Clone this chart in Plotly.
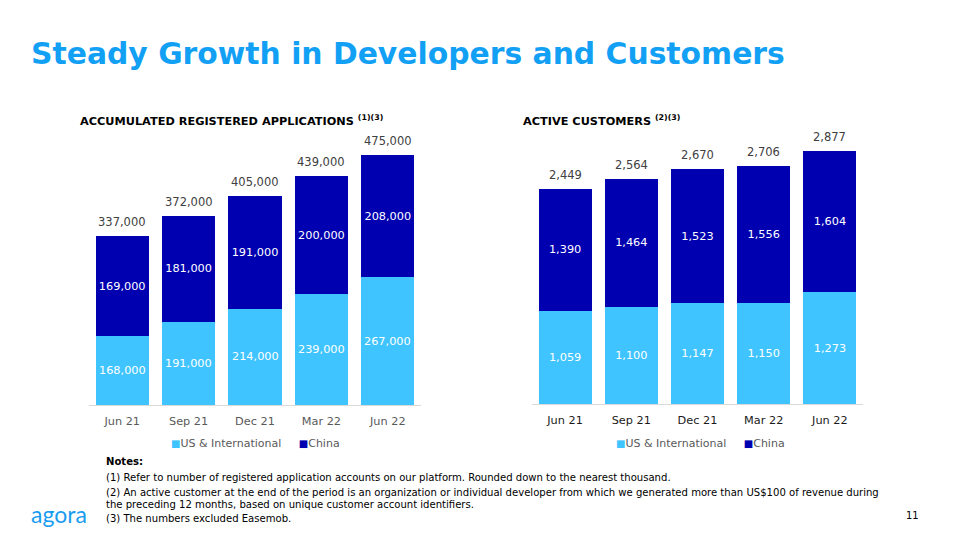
import plotly.graph_objects as go

categories = ["Jun 21", "Sep 21", "Dec 21", "Mar 22", "Jun 22"]
apps_us = [168000, 191000, 214000, 239000, 267000]
apps_china = [169000, 181000, 191000, 200000, 208000]
apps_total = [337000, 372000, 405000, 439000, 475000]
cust_us = [1059, 1100, 1147, 1150, 1273]
cust_china = [1390, 1464, 1523, 1556, 1604]
cust_total = [2449, 2564, 2670, 2706, 2877]
series_names = ["US & International", "China"]

LIGHT = "#40c4ff"
DARK = "#0000b0"
FONT = "DejaVu Sans, Verdana, sans-serif"
W, H = 960, 540
APPS_RANGE = [50000, 518000]
CUST_RANGE = [0, 3117]


def px(x):
    return x / W


def py(y):
    return 1 - y / H


fig = go.Figure()

common = dict(insidetextanchor="middle", constraintext="none", textangle=0,
              textfont=dict(color="white", size=11.3, family=FONT), marker_line_width=0,
              showlegend=False)

# left chart: light bars are cut by the axis start, so their labels sit at the visible middle
fig.add_trace(go.Bar(x=categories, y=apps_us, name=series_names[0], marker_color=LIGHT,
                     xaxis="x", yaxis="y", textposition="none", **common))
fig.add_trace(go.Bar(x=categories, y=apps_china, name=series_names[1], marker_color=DARK,
                     text=[f"{v:,}" for v in apps_china], xaxis="x", yaxis="y", textposition="inside", **common))
fig.add_trace(go.Bar(x=categories, y=cust_us, name=series_names[0], marker_color=LIGHT,
                     text=[f"{v:,}" for v in cust_us], xaxis="x2", yaxis="y2", textposition="inside", **common))
fig.add_trace(go.Bar(x=categories, y=cust_china, name=series_names[1], marker_color=DARK,
                     text=[f"{v:,}" for v in cust_china], xaxis="x2", yaxis="y2", textposition="inside", **common))

annotations = []
for c, v in zip(categories, apps_us):
    annotations.append(dict(x=c, y=(max(APPS_RANGE[0], 0) + v) / 2, xref="x", yref="y", text=f"{v:,}",
                            showarrow=False, yanchor="middle",
                            font=dict(size=11.3, color="white", family=FONT)))
for c, t in zip(categories, apps_total):
    annotations.append(dict(x=c, y=t, xref="x", yref="y", text=f"{t:,}", showarrow=False,
                            yanchor="bottom", yshift=5, font=dict(size=11.5, color="#404040", family=FONT)))
for c, t in zip(categories, cust_total):
    annotations.append(dict(x=c, y=t, xref="x2", yref="y2", text=f"{t:,}", showarrow=False,
                            yanchor="bottom", yshift=5, font=dict(size=11.5, color="#404040", family=FONT)))

annotations += [
    dict(x=px(29), y=py(54), xref="paper", yref="paper", xanchor="left", yanchor="middle",
         text="<b>Steady Growth in Developers and Customers</b>", showarrow=False,
         font=dict(size=29.8, color="#12a0f5", family=FONT)),
    dict(x=px(78), y=py(120), xref="paper", yref="paper", xanchor="left", yanchor="middle",
         text="<b>ACCUMULATED REGISTERED APPLICATIONS <sup>(1)(3)</sup></b>", showarrow=False,
         font=dict(size=11.3, color="#000000", family=FONT)),
    dict(x=px(521), y=py(120), xref="paper", yref="paper", xanchor="left", yanchor="middle",
         text="<b>ACTIVE CUSTOMERS <sup>(2)(3)</sup></b>", showarrow=False,
         font=dict(size=11.3, color="#000000", family=FONT)),
]

# legends (one per chart)
GAP = "\u00a0" * 5
legend_text = (f"<span style='color:{LIGHT};font-size:10px'>■</span>{series_names[0]}{GAP}"
               f"<span style='color:{DARK};font-size:10px'>■</span>{series_names[1]}")
for cx in (255, 700):
    annotations.append(dict(x=px(cx), y=py(443), xref="paper", yref="paper", xanchor="center",
                            yanchor="middle", text=legend_text, showarrow=False,
                            font=dict(size=11, color="#595959", family=FONT)))

NOTE_FONT = "Liberation Sans Narrow, DejaVu Sans Condensed, Arial Narrow, sans-serif"
notes = [
    (461, "<b>Notes:</b>"),
    (477, "(1) Refer to number of registered application accounts on our platform. Rounded down to the nearest thousand."),
    (492, "(2) An active customer at the end of the period is an organization or individual developer from which we generated more than US$100 of revenue during"),
    (504, "the preceding 12 months, based on unique customer account identifiers."),
    (518, "(3) The numbers excluded Easemob."),
]
for y, t in notes:
    annotations.append(dict(x=px(104), y=py(y), xref="paper", yref="paper", xanchor="left", yanchor="middle",
                            text=t, showarrow=False, font=dict(size=11.2, color="#000000", family=NOTE_FONT)))

annotations.append(dict(x=px(29), y=py(514), xref="paper", yref="paper", xanchor="left", yanchor="middle",
                        text="agora", showarrow=False, font=dict(size=23, color="#1a9cf0", family="Lato, sans-serif")))
annotations.append(dict(x=px(912), y=py(515), xref="paper", yref="paper", xanchor="center", yanchor="middle",
                        text="11", showarrow=False, font=dict(size=11, color="#000000", family=NOTE_FONT)))

axis_x = dict(showline=True, linecolor="#d9d9d9", linewidth=1, ticks="", showgrid=False,
              zeroline=False, fixedrange=True, ticklabelstandoff=5)
fig.update_layout(
    width=W, height=H, margin=dict(l=0, r=0, t=0, b=0),
    paper_bgcolor="white", plot_bgcolor="white",
    barmode="stack", bargap=0.2,
    font=dict(family=FONT),
    xaxis=dict(domain=[px(89), px(421)], anchor="y", tickfont=dict(size=11.3, color="#595959"), **axis_x),
    xaxis2=dict(domain=[px(532), px(863)], anchor="y2", tickfont=dict(size=11.3, color="#1a1a1a"), **axis_x),
    yaxis=dict(domain=[py(405), py(130)], range=APPS_RANGE, visible=False, fixedrange=True),
    yaxis2=dict(domain=[py(404), py(130)], range=CUST_RANGE, visible=False, fixedrange=True),
    annotations=annotations,
    showlegend=False,
)

fig.write_html("out.html", config={"displayModeBar": False},
               post_script="document.body.style.margin='0';document.body.style.padding='0';")
